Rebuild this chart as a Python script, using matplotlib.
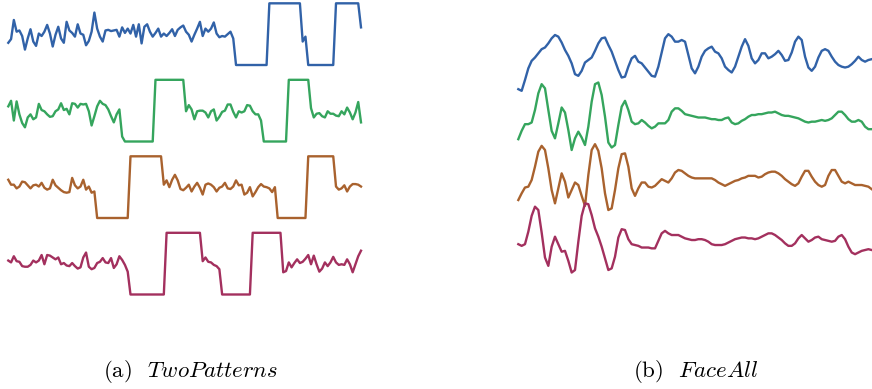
import matplotlib
matplotlib.use("Agg")
import matplotlib.pyplot as plt
import numpy as np

# TwoPatterns samples (0 = low plateau, 10 = high plateau)
two_blue = [3.6, 4.2, 7.3, 5.4, 5.6, 4.7, 2.5, 4.3, 5.8, 3.8,
            3.1, 5.1, 4.7, 5.4, 6.5, 5.1, 3.0, 4.9, 6.2, 4.3,
            3.6, 7.0, 5.6, 5.2, 4.6, 6.6, 5.1, 4.9, 3.2, 3.9,
            5.4, 8.5, 5.9, 4.6, 3.8, 5.6, 5.7, 5.5, 5.6, 5.7,
            4.6, 6.1, 5.2, 5.9, 5.1, 6.5, 4.6, 6.6, 3.5, 6.2,
            6.6, 5.4, 4.6, 5.2, 5.9, 4.6, 5.1, 4.7, 5.2, 5.8,
            4.7, 5.7, 6.1, 6.4, 5.4, 4.9, 3.8, 4.9, 5.9, 7.0,
            4.7, 5.9, 5.4, 5.9, 6.9, 5.1, 4.5, 4.7, 4.6, 5.0,
            5.4, 4.3,
            0, 0, 0, 0, 0, 0, 0, 0, 0, 0, 0, 0,
            10, 10, 10, 10, 10, 10, 10, 10, 10, 10, 10, 10,
            3.8, 4.6,
            0, 0, 0, 0, 0, 0, 0, 0, 0, 0,
            10, 10, 10, 10, 10, 10, 10, 10, 10,
            6.1]

two_green = [5.7, 6.6, 3.4, 6.5, 4.4, 3.0, 2.3, 3.9, 4.4, 3.6,
             3.9, 6.1, 5.1, 4.9, 4.4, 4.0, 4.1, 4.9, 5.2, 6.2,
             5.1, 5.3, 4.4, 6.2, 6.1, 5.5, 6.1, 6.0, 6.1, 4.9,
             2.6, 4.1, 5.7, 6.6, 6.1, 5.9, 5.2, 4.1, 3.1, 4.4,
             5.2, 0.8,
             0, 0, 0, 0, 0, 0, 0, 0, 0, 0, 0,
             10, 10, 10, 10, 10, 10, 10, 10, 10, 10, 10,
             4.9, 5.9, 5.2, 3.6, 4.9, 5.0, 5.0, 4.7, 3.9, 4.9,
             5.2, 3.4, 4.0, 4.8, 5.0, 6.0, 6.0, 4.8, 3.9, 4.9,
             4.7, 4.9, 5.9, 5.8, 4.9, 4.4, 4.4, 3.4,
             0, 0, 0, 0, 0, 0, 0, 0, 0,
             10, 10, 10, 10, 10, 10, 10, 10,
             5.4, 3.9, 4.5, 4.6, 4.1, 3.9, 4.9, 4.5, 4.5, 4.2,
             4.1, 4.9, 4.4, 5.5, 4.7, 3.6, 4.7, 6.4, 3.1]

two_orange = [6.2, 5.4, 5.4, 4.8, 5.1, 5.9, 5.8, 5.3, 4.8, 5.3,
              5.4, 5.1, 5.7, 4.9, 4.6, 4.8, 6.2, 5.3, 4.9, 4.5,
              4.2, 4.1, 4.2, 6.5, 5.3, 4.8, 5.1, 6.2, 4.6, 5.1,
              4.1, 4.3,
              0, 0, 0, 0, 0, 0, 0, 0, 0, 0, 0, 0,
              10, 10, 10, 10, 10, 10, 10, 10, 10, 10, 10, 10,
              5.4, 6.1, 5.0, 6.2, 7.0, 6.1, 4.7, 4.5, 4.9, 5.4,
              4.3, 5.1, 5.7, 4.9, 3.8, 5.4, 5.6, 5.4, 5.0, 4.3,
              4.9, 5.1, 5.7, 4.8, 4.7, 5.1, 6.1, 5.3, 5.4, 3.8,
              4.1, 5.0, 3.5, 4.2, 5.0, 5.5, 5.1, 5.0, 4.8, 4.2,
              5.0,
              0, 0, 0, 0, 0, 0, 0, 0, 0, 0, 0,
              10, 10, 10, 10, 10, 10, 10, 10, 10, 10,
              5.1, 4.6, 4.8, 5.3, 4.3, 5.1, 5.5, 5.5, 5.4, 5.1]

two_purple = [5.5, 5.2, 6.2, 5.4, 5.3, 4.6, 4.5, 4.5, 4.8, 5.5,
              5.2, 5.5, 6.4, 4.9, 6.4, 6.3, 6.0, 5.7, 6.0, 4.9,
              5.1, 4.7, 4.6, 5.1, 4.6, 4.2, 4.4, 6.0, 6.8, 4.5,
              4.1, 4.3, 5.1, 5.3, 5.9, 5.2, 5.1, 5.9, 4.3, 4.9,
              6.2, 5.6, 4.8, 3.7,
              0, 0, 0, 0, 0, 0, 0, 0, 0, 0, 0, 0, 0,
              10, 10, 10, 10, 10, 10, 10, 10, 10, 10, 10, 10, 10,
              5.4, 6.0, 5.3, 5.2, 4.8, 4.6, 4.1,
              0, 0, 0, 0, 0, 0, 0, 0, 0, 0, 0,
              10, 10, 10, 10, 10, 10, 10, 10, 10, 10, 10,
              3.6, 3.8, 5.2, 4.4, 5.1, 5.7, 5.1, 5.3, 5.8, 6.4,
              4.9, 6.3, 4.9, 3.7, 4.2, 5.2, 4.6, 5.2, 6.1, 5.2,
              4.8, 4.9, 4.8, 5.7, 4.9, 3.6, 4.9, 6.2, 7.1]

# FaceAll samples
face_blue = [1.7, 1.5, 2.8, 4.2, 5.1, 5.5, 6.0, 6.5, 6.7, 7.2,
             7.8, 8.2, 8.0, 7.3, 6.4, 5.7, 4.8, 3.5, 3.3, 3.9,
             4.9, 5.2, 5.5, 6.3, 7.2, 7.8, 7.9, 7.0, 6.2, 5.1,
             4.0, 3.1, 3.2, 4.4, 5.4, 5.7, 5.0, 4.8, 4.3, 3.8,
             3.3, 3.2, 4.4, 6.1, 7.8, 8.3, 8.0, 7.4, 7.4, 7.6,
             7.4, 5.8, 4.2, 3.6, 4.4, 5.6, 6.3, 6.6, 6.8, 6.2,
             6.0, 5.4, 4.4, 4.0, 3.7, 4.4, 5.6, 6.8, 7.7, 6.9,
             5.4, 4.8, 5.2, 6.0, 6.0, 5.4, 5.6, 5.9, 6.3, 5.8,
             5.1, 5.2, 6.1, 7.4, 8.0, 7.6, 5.6, 4.3, 3.9, 4.4,
             5.5, 6.3, 6.5, 6.3, 5.6, 5.0, 4.6, 4.4, 4.3, 4.4,
             4.7, 5.1, 5.6, 5.2, 5.0, 5.2, 5.3]

face_green = [2.7, 3.7, 4.5, 4.5, 4.7, 6.2, 8.2, 9.3, 8.8, 6.2,
              3.7, 2.8, 4.6, 6.5, 5.9, 3.8, 1.4, 2.8, 3.6, 2.9,
              2.0, 4.2, 7.2, 9.3, 9.5, 8.0, 5.4, 2.3, 1.7, 2.0,
              4.4, 6.6, 7.3, 6.2, 4.8, 4.5, 4.6, 5.0, 4.7, 4.3,
              4.0, 4.2, 4.6, 4.6, 4.6, 5.0, 6.0, 6.4, 6.4, 6.1,
              5.7, 5.6, 5.5, 5.4, 5.3, 5.3, 5.3, 5.2, 5.1, 5.1,
              5.0, 5.0, 5.2, 5.3, 4.7, 4.5, 4.6, 4.9, 5.1, 5.4,
              5.6, 5.6, 5.7, 5.7, 5.8, 5.9, 5.9, 6.0, 5.8, 5.6,
              5.5, 5.5, 5.4, 5.3, 5.2, 5.0, 4.8, 4.7, 4.8, 4.8,
              4.9, 5.0, 4.9, 5.0, 5.2, 5.6, 6.0, 6.0, 5.6, 5.1,
              4.8, 4.8, 5.0, 4.8, 4.2, 3.9, 3.9]

face_orange = [2.4, 3.2, 3.9, 4.0, 4.8, 6.4, 8.2, 8.9, 8.4, 6.2,
               3.6, 2.0, 3.8, 5.6, 4.6, 2.7, 3.6, 4.5, 4.2, 2.9,
               1.7, 5.4, 8.4, 9.1, 8.3, 6.2, 3.2, 1.2, 1.4, 3.6,
               6.2, 7.9, 8.0, 6.4, 3.8, 2.9, 3.8, 4.5, 4.5, 4.0,
               3.9, 4.1, 4.5, 4.9, 4.7, 4.5, 5.0, 5.7, 6.0, 5.9,
               5.6, 5.3, 5.1, 5.0, 5.0, 5.0, 5.0, 5.0, 5.0, 4.8,
               4.5, 4.3, 4.1, 4.3, 4.5, 4.7, 4.8, 5.0, 5.1, 5.3,
               5.3, 5.3, 5.1, 5.2, 5.5, 5.7, 5.8, 5.8, 5.6, 5.3,
               4.9, 4.6, 4.3, 4.1, 4.4, 5.2, 5.9, 5.9, 5.2, 4.6,
               4.2, 4.0, 4.2, 5.3, 6.0, 6.0, 5.3, 4.6, 4.4, 4.6,
               4.4, 4.2, 4.2, 4.2, 4.1, 4.0, 3.7]

face_purple = [4.1, 3.9, 4.1, 5.6, 7.5, 8.6, 8.2, 5.5, 2.5, 1.5,
               3.8, 5.0, 4.1, 3.2, 3.3, 2.1, 0.7, 1.0, 4.4, 7.5,
               9.0, 8.9, 7.6, 6.0, 5.0, 3.8, 2.4, 1.0, 1.2, 2.6,
               4.9, 5.9, 5.8, 4.7, 4.1, 4.0, 3.9, 3.7, 3.7, 3.7,
               3.6, 3.6, 4.5, 5.4, 5.7, 5.4, 5.2, 5.2, 5.2, 5.0,
               4.8, 4.7, 4.6, 4.6, 4.7, 4.7, 4.6, 4.4, 4.1, 4.0,
               4.0, 4.0, 4.1, 4.3, 4.5, 4.7, 4.8, 4.9, 4.9, 4.8,
               4.8, 4.7, 4.8, 5.0, 5.2, 5.4, 5.4, 5.2, 4.9, 4.6,
               4.2, 3.9, 3.9, 4.2, 4.8, 5.2, 4.8, 4.4, 4.6, 4.9,
               5.0, 4.7, 4.6, 4.5, 4.4, 4.5, 5.0, 5.2, 4.7, 3.8,
               3.1, 2.9, 3.1, 3.3, 3.4, 3.5, 3.4]

colors = ["#3162a8", "#35a55d", "#a9622e", "#a3305e"]
captions = [r"(a)  $\mathit{TwoPatterns}$", r"(b)  $\mathit{FaceAll}$"]

plt.rcParams["mathtext.fontset"] = "cm"
plt.rcParams["font.family"] = "serif"
plt.rcParams["font.serif"] = ["cmr10"]

fig = plt.figure(figsize=(8.72, 3.89), dpi=100)

panels = [
    # series, vertical gap between series, axes box, y range
    ([two_blue, two_green, two_orange, two_purple], 12.4,
     [0.0095, 0.2144, 0.4045, 0.785], (-39, 10.5)),
    ([face_blue, face_green, face_orange, face_purple], 7.0,
     [0.5944, 0.263, 0.4053, 0.6856], (-22, 10)),
]

for series, gap, box, ylim in panels:
    ax = fig.add_axes(box)
    for k, (vals, c) in enumerate(zip(series, colors)):
        v = np.asarray(vals)
        ax.plot(np.arange(len(v)), v - gap * k, color=c, lw=1.7,
                solid_joinstyle="round", clip_on=False)
    ax.set_xlim(0, len(series[0]) - 1)
    ax.set_ylim(*ylim)
    ax.axis("off")

fig.text(0.219, 0.045, captions[0], ha="center", va="center", fontsize=16.5)
fig.text(0.798, 0.045, captions[1], ha="center", va="center", fontsize=16.5)

fig.savefig("out.png", dpi=100)
